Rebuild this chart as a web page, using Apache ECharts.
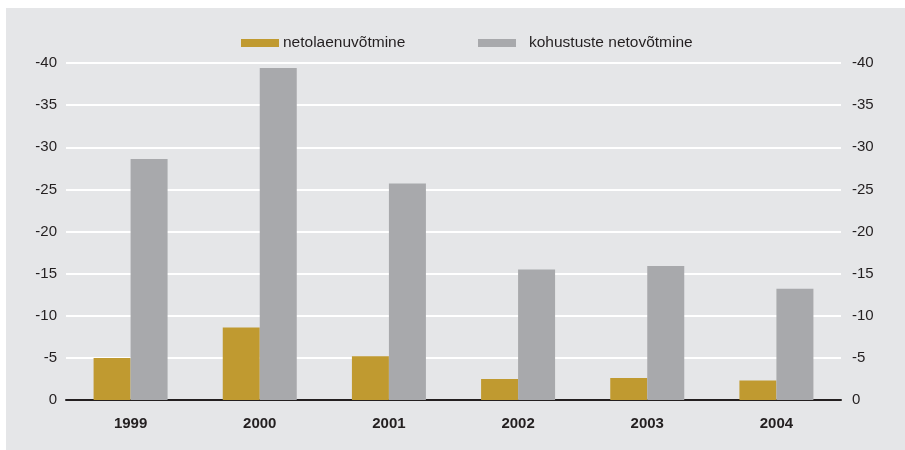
<!DOCTYPE html>
<html>
<head>
<meta charset="utf-8">
<script src="https://cdn.jsdelivr.net/npm/echarts@6/dist/echarts.min.js"></script>
<style>
  html, body { margin: 0; padding: 0; background: #ffffff; }
  #chart { position: absolute; left: 6px; top: 8px; width: 899px; height: 442px; }
</style>
</head>
<body>
<div id="chart"></div>
<script>
// Years on the category axis
const years = ['1999', '2000', '2001', '2002', '2003', '2004'];
// Net borrowing (netolaenuvõtmine)
const netBorrowing = [-5.0, -8.6, -5.2, -2.5, -2.6, -2.3];
// Net incurrence of liabilities (kohustuste netovõtmine)
const netLiabilities = [-28.6, -39.4, -25.7, -15.5, -15.9, -13.2];
const seriesNames = ['netolaenuvõtmine', 'kohustuste netovõtmine'];

const font = 'Liberation Sans, Arial, Helvetica, sans-serif';
const textColor = '#231f20';

function valueAxis(position, margin) {
  return {
    type: 'value',
    position: position,
    inverse: true,
    min: -40,
    max: 0,
    interval: 5,
    axisLine: { show: false },
    axisTick: { show: false },
    splitLine: { show: position === 'left', lineStyle: { color: '#ffffff', width: 2 } },
    axisLabel: { color: textColor, fontFamily: font, fontSize: 15, margin: margin }
  };
}

const chart = echarts.init(document.getElementById('chart'));
chart.setOption({
  backgroundColor: '#e5e6e8',
  animation: false,
  legend: [
    {
      data: [seriesNames[0]],
      left: 230, top: 22,
      itemWidth: 38, itemHeight: 8,
      icon: 'rect',
      textStyle: { color: textColor, fontFamily: font, fontSize: 15.5, padding: [0, 0, 0, -1] }
    },
    {
      data: [seriesNames[1]],
      left: 467, top: 22,
      itemWidth: 38, itemHeight: 8,
      icon: 'rect',
      textStyle: { color: textColor, fontFamily: font, fontSize: 15.5, padding: [0, 0, 0, 8] }
    }
  ],
  grid: { left: 60, right: 64, top: 55, bottom: 50 },
  xAxis: {
    type: 'category',
    data: years,
    axisLine: { show: true, lineStyle: { color: textColor, width: 2 } },
    axisTick: { show: false },
    axisLabel: { color: textColor, fontFamily: font, fontSize: 15, fontWeight: 'bold', margin: 16 }
  },
  yAxis: [valueAxis('left', 9), valueAxis('right', 11)],
  series: [
    {
      name: seriesNames[0],
      type: 'bar',
      data: netBorrowing,
      barWidth: 37,
      barGap: '0%',
      itemStyle: { color: '#c09a30' }
    },
    {
      name: seriesNames[1],
      type: 'bar',
      data: netLiabilities,
      barWidth: 37,
      barGap: '0%',
      itemStyle: { color: '#a8a9ac' }
    }
  ]
});
</script>
</body>
</html>
